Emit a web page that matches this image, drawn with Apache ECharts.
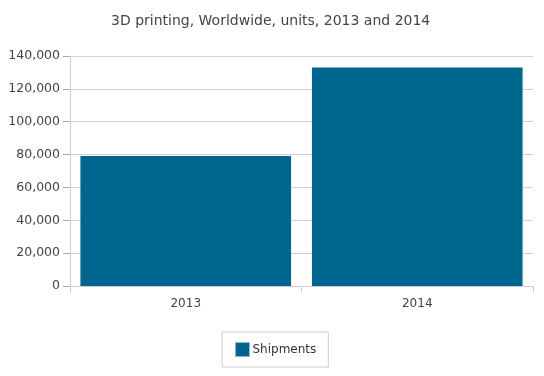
<!DOCTYPE html>
<html><head><meta charset="utf-8">
<script src="https://cdn.jsdelivr.net/npm/echarts@6/dist/echarts.min.js"></script>
<style>html,body{margin:0;padding:0;background:#fff}#c{width:544px;height:376px}</style>
</head><body><div id="c"></div>
<script>
const categories = ['2013', '2014'];
const shipments = [79200, 133000];
const seriesName = 'Shipments';
const titleText = '3D printing, Worldwide, units, 2013 and 2014';

const chart = echarts.init(document.getElementById('c'));
const font = 'DejaVu Sans, Verdana, sans-serif';
chart.setOption({
  animation: false,
  title: { text: titleText, left: 106, top: 9,
    textStyle: { fontFamily: font, fontSize: 14, fontWeight: 'normal', color: '#444' } },
  grid: { left: 70, right: 11, top: 56, bottom: 90 },
  legend: {
    bottom: 9, left: 222, data: [seriesName],
    itemWidth: 14, itemHeight: 14, itemGap: 4,
    padding: [10, 12, 10, 13],
    borderColor: '#ccc', borderWidth: 1,
    textStyle: { fontFamily: font, fontSize: 12, color: '#333', padding: [0,0,0,-2] },
    icon: 'rect',
    itemStyle: { borderColor: '#aac', borderWidth: 1 }
  },
  xAxis: {
    type: 'category', data: categories,
    axisLine: { lineStyle: { color: '#ccc' } },
    axisTick: { show: true, alignWithLabel: false, length: 7, lineStyle: { color: '#ccc' } },
    axisLabel: { fontFamily: font, fontSize: 12, color: '#444', margin: 12 }
  },
  yAxis: {
    type: 'value', min: 0, max: 140000, interval: 20000,
    axisLine: { show: true, lineStyle: { color: '#ccc' } },
    axisTick: { show: true, length: 7, lineStyle: { color: '#aaa' } },
    splitLine: { lineStyle: { color: '#d0d0d0' } },
    axisLabel: { fontFamily: font, fontSize: 12.5, color: '#444', margin: 10,
      formatter: v => v.toLocaleString('en-US') }
  },
  series: [{
    name: seriesName, type: 'bar', data: shipments,
    barCategoryGap: '9%',
    itemStyle: { color: '#00668f' }
  }]
});
</script></body></html>
